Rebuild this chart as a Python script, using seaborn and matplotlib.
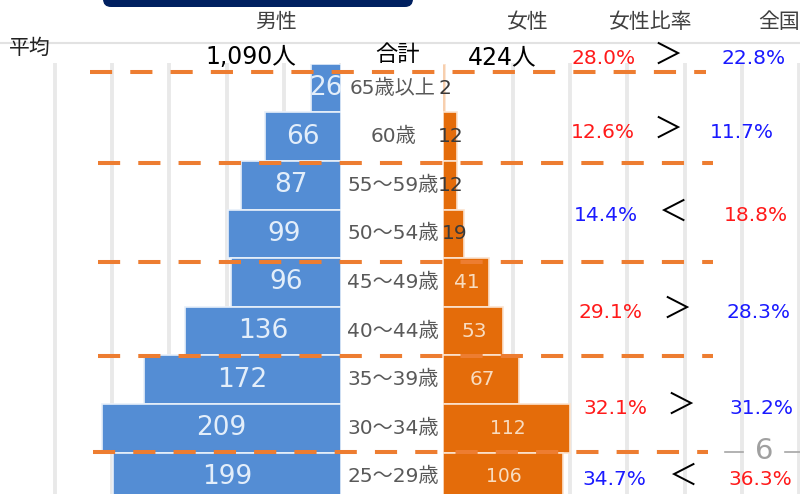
import matplotlib

matplotlib.use("Agg")
import matplotlib.pyplot as plt  # noqa: E402
import pandas as pd  # noqa: E402
import seaborn as sns  # noqa: E402
from matplotlib.patches import FancyBboxPatch  # noqa: E402

# DejaVu for the (wide) digits, Noto CJK for the Japanese glyphs
plt.rcParams["font.family"] = ["DejaVu Sans", "Noto Sans CJK JP"]

# ---- data ----
AGES = ["65歳以上", "60歳", "55～59歳", "50～54歳", "45～49歳",
        "40～44歳", "35～39歳", "30～34歳", "25～29歳"]
MALE = [26, 66, 87, 99, 96, 136, 172, 209, 199]
FEMALE = [2, 12, 12, 19, 41, 53, 67, 112, 106]
TOTAL_MALE = 1090
TOTAL_FEMALE = 424
TOTAL_RATE = 28.0
TOTAL_NATIONAL = 22.8
GROUP_RATE = [12.6, 14.4, 29.1, 32.1, 34.7]      # 女性比率 per 2-row group
GROUP_NATIONAL = [11.7, 18.8, 28.3, 31.2, 36.3]  # 全国
HEADERS = ["男性", "女性", "女性比率", "全国"]
PAGE_NO = "6"

BLUE = "#548dd4"
ORANGE = "#e46c0a"
ORANGE_LINE = "#ed7d31"
RED = "#ff1a1a"
DBLUE = "#1a1aff"

W, H = 800, 494
PX_M = 1.145  # pixels per person, male side
PX_F = 1.13   # pixels per person, female side


def frac(x0, y0, x1, y1):
    """pixel box (top-left origin) -> figure fraction rect"""
    return [x0 / W, 1 - y1 / H, (x1 - x0) / W, (y1 - y0) / H]


fig = plt.figure(figsize=(W / 100, H / 100), dpi=100)

# background grid
ax_g = fig.add_axes(frac(0, 63, W, H))
ax_g.set_xlim(-341 / PX_M, (W - 341) / PX_M)
ax_g.set_ylim(0, 1)
ax_g.set_xticks(range(-250, 401, 50))
ax_g.set_yticks([])
ax_g.tick_params(length=0, labelbottom=False)
ax_g.set_axisbelow(True)
ax_g.grid(axis="x", color="#e9e9e9", lw=2.8)
ax_g.axvspan(0, 106, color="white", lw=0)
for s in ax_g.spines.values():
    s.set_visible(False)

df = pd.DataFrame({"age": AGES, "male": MALE, "female": FEMALE})
n = len(AGES)

ax_m = fig.add_axes(frac(0, 63.7, 341, 501.1))
sns.barplot(data=df, x="male", y="age", color=BLUE, saturation=1, width=1,
            edgecolor="#e8f0fa", linewidth=1.2, ax=ax_m)
ax_m.set_xlim(341 / PX_M, 0)
ax_m.set_ylim(n - 0.5, -0.5)
ax_m.axis("off")

ax_f = fig.add_axes(frac(443, 63.7, W, 501.1))
sns.barplot(data=df, x="female", y="age", color=ORANGE, saturation=1, width=1,
            edgecolor="#fbe3cf", linewidth=1.2, ax=ax_f)
ax_f.set_xlim(0, (W - 443) / PX_F)
ax_f.set_ylim(n - 0.5, -0.5)
ax_f.axis("off")

for i, (age, m, f) in enumerate(zip(AGES, MALE, FEMALE)):
    ax_m.text(m / 2, i, f"{m}", ha="center", va="center", fontsize=19,
              color="#e3eefa")
    ax_m.text(393 / 341, i, age, transform=ax_m.get_yaxis_transform(),
              ha="center", va="center", fontsize=14.5, color="#595959")
    ax_f.text(f / 2 + 1, i, f"{f}", ha="center", va="center",
              fontsize=14.5 if f < 100 else 13.5,
              color="#3a3a3a" if f < 20 else "#f8dcc0")

# overlay in pixel coordinates for headings / comparisons
ax_o = fig.add_axes([0, 0, 1, 1])
ax_o.set_xlim(0, W)
ax_o.set_ylim(H, 0)
ax_o.axis("off")
ax_o.patch.set_alpha(0)

ax_o.add_patch(FancyBboxPatch((103, -20), 310, 27,
                              boxstyle="round,pad=0,rounding_size=8",
                              fc="#002060", ec="none"))
ax_o.plot([0, W], [43, 43], color="#e2e2e2", lw=1.5)

for txt, x in zip(HEADERS, [276, 528, 651, 779]):
    ax_o.text(x, 22, txt, ha="center", va="center", fontsize=15,
              color="#404040")

ax_o.text(30, 48, "平均", ha="center", va="center", fontsize=15, color="#222222")
ax_o.text(251, 57, f"{TOTAL_MALE:,}人", ha="center", va="center", fontsize=17,
          color="black")
ax_o.text(397, 55, "合計", ha="center", va="center", fontsize=16, color="black")
ax_o.text(502, 57, f"{TOTAL_FEMALE:,}人", ha="center", va="center",
          fontsize=17, color="black")


def compare(a, b, xa, xs, xb, y):
    ca, cb = (RED, DBLUE) if a > b else (DBLUE, RED)
    sym = "＞" if a > b else "＜"
    ax_o.text(xa, y, f"{a:.1f}%", ha="center", va="center", fontsize=14.5,
              color=ca)
    ax_o.text(xs, y - 2, sym, ha="center", va="center", fontsize=21,
              color="black")
    ax_o.text(xb, y, f"{b:.1f}%", ha="center", va="center", fontsize=14.5,
              color=cb)


compare(TOTAL_RATE, TOTAL_NATIONAL, 604, 668, 754, 58)
col_a = [603, 606, 611, 615, 614]
col_s = [668, 673, 677, 681, 683]
col_b = [742, 756, 758, 761, 760]
row_y = [132, 215, 312, 408, 479]
for a, b, xa, xs, xb, y in zip(GROUP_RATE, GROUP_NATIONAL, col_a, col_s,
                               col_b, row_y):
    compare(a, b, xa, xs, xb, y)

# orange dashed group separators
for y, x0, x1 in zip([72, 163, 262, 356, 452],
                     [90, 98, 98, 98, 93],
                     [706, 713, 713, 713, 708]):
    ax_o.plot([x0, x1], [y, y], color=ORANGE_LINE, lw=2.9,
              dashes=(5.5, 4.5), solid_capstyle="butt",
              dash_capstyle="butt")

# page number
ax_o.plot([725, 743], [452, 452], color="#a6a6a6", lw=1.2)
ax_o.plot([785, 800], [452, 452], color="#a6a6a6", lw=1.2)
ax_o.text(764, 451, PAGE_NO, ha="center", va="center", fontsize=21,
          color="#a0a0a0")

fig.savefig("out.png", dpi=100)
